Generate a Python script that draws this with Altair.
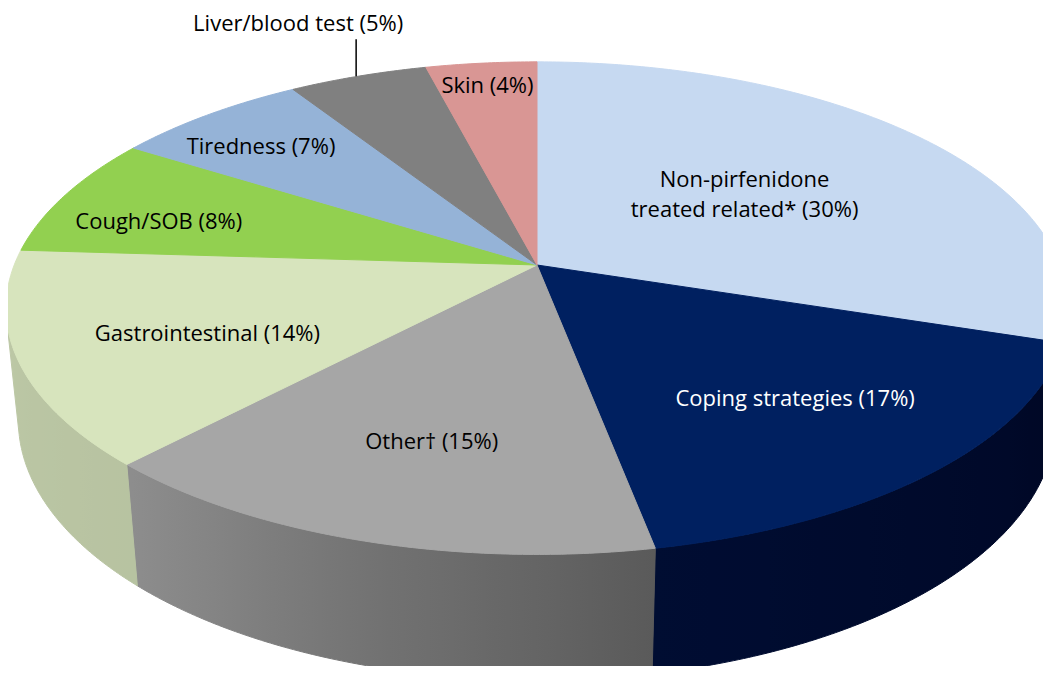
import numpy as np
import pandas as pd
import altair as alt

# ---- data ----
categories = ["Non-pirfenidone treated related*", "Coping strategies", "Other†",
              "Gastrointestinal", "Cough/SOB", "Tiredness", "Liver/blood test", "Skin"]
values = [30, 17, 15, 14, 8, 7, 5, 4]
labels = ["Non-pirfenidone\ntreated related* (30%)", "Coping strategies (17%)", "Other† (15%)",
          "Gastrointestinal (14%)", "Cough/SOB (8%)", "Tiredness (7%)",
          "Liver/blood test (5%)", "Skin (4%)"]

# ---- style ----
top_colors = ["#C6D9F1", "#002060", "#A6A6A6", "#D7E4BD", "#92D050", "#95B3D7", "#808080", "#D99694"]
text_colors = ["#000000", "#FFFFFF", "#000000", "#000000", "#000000", "#000000", "#000000", "#000000"]
label_radius = [0.57, 0.68, 0.68, 0.66, 0.77, 0.79, None, 0.87]
label_dangle = [-6, 0, -1, -3, -4, -2, 0, 0]
FONT = "Open Sans"
FSIZE = 22

# 3D view parameters (projection of a tilted cylinder)
CX, CY = 537.0, 265.0
FX, FY = 2640.0, 2585.0
DIST = 5.05
PHI = np.radians(27.8)
C, S = np.cos(PHI), np.sin(PHI)
H = 0.25


def proj(X, Y, Z):
    depth = DIST + Y * C - Z * S
    up = Y * S + Z * C
    return CX + FX * X / depth, CY - FY * up / depth


def hex2rgb(h):
    return [int(h[i:i + 2], 16) / 255 for i in (1, 3, 5)]


def to_lin(v):
    return ((v + 0.055) / 1.055) ** 2.4 if v > 0.04045 else v / 12.92


def to_srgb(v):
    v = min(max(v, 0), 1)
    return 1.055 * v ** (1 / 2.4) - 0.055 if v > 0.0031308 else 12.92 * v


def shade(hexcol, f):
    rgb = [to_srgb(to_lin(v) * f) for v in hex2rgb(hexcol)]
    return "#%02x%02x%02x" % tuple(int(round(v * 255)) for v in rgb)


shade_ang = [100, 170, 196, 223, 260, 280]
shade_val = [0.14, 0.27, 0.45, 0.70, 0.74, 0.74]

total = float(sum(values))
cum = np.concatenate([[0], np.cumsum(values)]) / total * 360.0

xs = alt.Scale(domain=[8, 1043], nice=False, zero=False)
ys = alt.Scale(domain=[8, 666], nice=False, zero=False, reverse=True)
XENC = alt.X("x:Q", scale=xs, axis=None)
YENC = alt.Y("y:Q", scale=ys, axis=None)

# ---- top faces ----
rows = []
for k, cat in enumerate(categories):
    a0, a1 = cum[k], cum[k + 1]
    n = max(3, int((a1 - a0) / 0.5))
    angs = np.radians(np.linspace(a0, a1, n))
    x0, y0 = proj(0, 0, 0)
    pts = [(x0, y0)] + [proj(np.sin(t), np.cos(t), 0) for t in angs] + [(x0, y0)]
    for j, (px, py) in enumerate(pts):
        rows.append(dict(cat=cat, i=j, x=px, y=py, col=top_colors[k]))
tops = pd.DataFrame(rows)

top_layer = alt.Chart(tops).mark_line(filled=True, strokeWidth=1.0, strokeJoin="round").encode(
    x=XENC, y=YENC,
    order=alt.Order("i:Q"),
    detail="cat:N",
    color=alt.Color("col:N", scale=None),
    stroke=alt.Stroke("col:N", scale=None),
)

# ---- side walls (one polygon per slice, horizontal gradient shading) ----
wmin = np.degrees(np.arccos(-1.0 / (DIST * C)))
wmax = 360 - wmin
wall_layers = []
for k, cat in enumerate(categories):
    a0, a1 = cum[k], cum[k + 1]
    lo, hi = max(a0, wmin), min(a1, wmax)
    if lo >= hi:
        continue
    m = max(2, int((hi - lo) / 0.5))
    angs = np.linspace(lo, hi, m + 1)
    topedge = [proj(np.sin(np.radians(t)), np.cos(np.radians(t)), 0) for t in angs]
    botedge = [proj(np.sin(np.radians(t)), np.cos(np.radians(t)), -H) for t in angs[::-1]]
    pts = topedge + botedge + [topedge[0]]
    df = pd.DataFrame([dict(cat=cat, i=j, x=p[0], y=p[1]) for j, p in enumerate(pts)])
    xsall = [p[0] for p in pts]
    xmin_, xmax_ = min(xsall), max(xsall)
    stop_angs = np.linspace(lo, hi, 12)
    stops = []
    for t in stop_angs:
        sx, _ = proj(np.sin(np.radians(t)), np.cos(np.radians(t)), -H / 2)
        off = float(np.clip((sx - xmin_) / (xmax_ - xmin_), 0, 1))
        f = float(np.interp(t, shade_ang, shade_val))
        stops.append((off, shade(top_colors[k], f)))
    stops.sort()
    grad = alt.LinearGradient(
        gradient="linear",
        stops=[alt.GradientStop(color=c_, offset=o_) for o_, c_ in stops],
        x1=0, x2=1, y1=0, y2=0,
    )
    wall_layers.append(
        alt.Chart(df).mark_line(filled=True, fill=grad, stroke=grad, strokeWidth=1.0,
                                strokeJoin="round").encode(
            x=XENC, y=YENC, order=alt.Order("i:Q"), detail="cat:N")
    )

# ---- labels ----
lab_rows = []
leader_rows = []
for k in range(len(categories)):
    mid = (cum[k] + cum[k + 1]) / 2
    if label_radius[k] is None:
        t = np.radians(mid)
        bx, by = proj(np.sin(t), np.cos(t), 0)
        leader_rows.append(dict(x=bx - 2, y=by, y2=by - 37))
        lab_rows.append(dict(x=bx - 60, y=by - 52, text=labels[k], tc=text_colors[k]))
    else:
        t = np.radians(mid + label_dangle[k])
        r = label_radius[k]
        lx, ly = proj(r * np.sin(t), r * np.cos(t), 0)
        lab_rows.append(dict(x=lx, y=ly, text=labels[k], tc=text_colors[k]))
labdf = pd.DataFrame(lab_rows)
leaderdf = pd.DataFrame(leader_rows)

leader = alt.Chart(leaderdf).mark_rule(color="#000000", strokeWidth=1.5).encode(
    x=XENC, y=YENC, y2="y2:Q",
)

text = alt.Chart(labdf).mark_text(font=FONT, fontSize=FSIZE, lineBreak="\n", lineHeight=30,
                                  align="center", baseline="middle").encode(
    x=XENC, y=YENC,
    text="text:N",
    color=alt.Color("tc:N", scale=None),
)

chart = alt.layer(*wall_layers, top_layer, leader, text).properties(
    width=1035, height=658, autosize=alt.AutoSizeParams(type="none"), padding=0,
    background="white"
).configure_view(strokeWidth=0)

chart.save("out.html", embed_options={"renderer": "svg", "actions": False})
